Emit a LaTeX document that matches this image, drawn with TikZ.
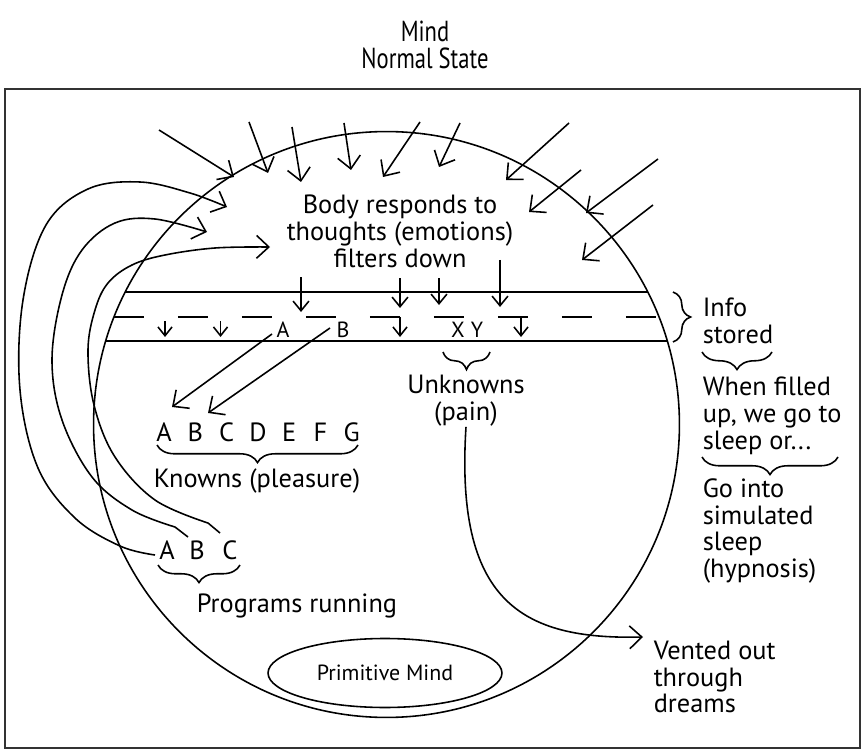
\documentclass[tikz,border=0pt]{standalone}
\usepackage{fontspec}
\setmainfont{PT Sans}
\newfontfamily\titlefont{PT Sans}[FakeStretch=0.78]
\usetikzlibrary{arrows.meta,decorations.pathreplacing,shapes.geometric}

\tikzset{
  txt/.style={inner sep=0pt, font=\fontsize{15}{15.3}\selectfont},
  sml/.style={inner sep=0pt, font=\fontsize{12.5}{13}\selectfont},
  brc/.style={decorate, decoration={brace, amplitude=10pt}},
  arr/.style={-{Straight Barb[length=7pt,width=13pt]}},
  midarr/.style={-{Straight Barb[length=5.5pt,width=9pt]}},
  tinyarr/.style={-{Straight Barb[length=5pt,width=8pt]}},
}

\begin{document}
\begin{tikzpicture}[x=0.02cm, y=-0.02cm, line width=0.9pt]
    \useasboundingbox (0,0) rectangle (863,750);

    % Title
    \node[txt, align=center, font=\titlefont\fontsize{16.5}{15.5}\selectfont] (title) at (425,45) {Mind\\Normal State};

    % Frame
    \draw[line width=1.1pt, black!80] (5,89) rectangle (860,748);

    % The mind
    \node[draw, circle, minimum size=11.72cm, inner sep=0pt] (mind) at (386.5,424.5) {};
    \node[draw, ellipse, minimum width=4.68cm, minimum height=1.38cm, inner sep=0pt, font=\fontsize{12.5}{13}\selectfont] (prim) at (385,673) {Primitive Mind};

    % Band where info is stored
    \draw (125.2,292) -- (647.8,292);
    \draw (105.6,341) -- (667.4,341);
    \draw[dash pattern=on 0.6cm off 0.68cm] (113.9,317) -- (659.1,317);

    % Thoughts coming in
    \foreach \sx/\sy/\ex/\ey [count=\i] in {159/130/234/177, 249/122/268/173, 292/127/301/182, 344/123/351/170, 420/122/383/177, 460/123/439/167, 569/123/506/180, 581/170/529/212, 658/159/586/213, 653/205/582/260}{
        \coordinate (out\i) at (\sx,\sy);
        \coordinate (in\i) at (\ex,\ey);
        \draw[arr] (out\i) -- (in\i);
    }
    \node[txt, align=center] (body) at (400,231.5) {Body responds to\\thoughts (emotions)\\filters down};

    % Filtering down
    \foreach \x/\ya/\yb in {301/277/312, 400/278/308, 439/278/305, 500/260/307}
        \draw[midarr] (\x,\ya) -- (\x,\yb);
    \foreach \x/\ya in {165/321, 220.5/321, 400/317, 521/317}
        \draw[tinyarr] (\x,\ya) -- (\x,337);

    % Letters in the band
    \node[sml] (bA) at (283,330) {A};
    \node[sml] (bB) at (343,330) {B};
    \node[sml] (bX) at (458,330) {X};
    \node[sml] (bY) at (477,330) {Y};

    % Knowns
    \foreach \l [count=\i from 0] in {A,B,C,D,E,F,G}
        \node[txt] (k\l) at ({164+31.3*\i},432) {\l};
    \draw[brc] (358,445) -- (157,445);
    \node[txt] (known) at (257,481) {Knowns (pleasure)};
    \coordinate (fromA) at (272,334);
    \coordinate (fromB) at (330,328);
    \coordinate (toA) at (172,407);
    \coordinate (toB) at (208,413);
    \draw[arr] (fromA) -- (toA);
    \draw[arr] (fromB) -- (toB);

    % Unknowns
    \draw[brc] (490,352) -- (443,352);
    \node[txt, align=center] (unk) at (466,400.5) {Unknowns\\(pain)};
    \coordinate (dream) at (643,637);
    \draw[arr] (unk.south) .. controls (455,600) and (520,640) .. (dream);
    \node[txt, align=left, anchor=west] (vent) at (653,677) {Vented out\\through\\dreams};

    % Right column
    \draw[brc] (673,292) -- (673,342);
    \node[txt, align=left, anchor=west] (info) at (702,321) {Info\\stored};
    \draw[brc] (772,352) -- (702,352);
    \node[txt, align=left, anchor=west] (full) at (702,416) {When filled\\up, we go to\\sleep or...};
    \draw[brc] (838,457) -- (702,457);
    \node[txt, align=left, anchor=west] (hyp) at (702,531) {Go into\\simulated\\sleep\\(hypnosis)};

    % Programs
    \node[txt] (pA) at (167,550) {A};
    \node[txt] (pB) at (197,550) {B};
    \node[txt] (pC) at (230,550) {C};
    \draw[brc] (240,565) -- (158,565);
    \node[txt] (prog) at (297,606) {Programs running};
    \coordinate (startA) at (155,555);
    \coordinate (startB) at (188,537);
    \coordinate (startC) at (220,533);
    \coordinate (tipA) at (227,207);
    \coordinate (tipB) at (207,232);
    \coordinate (tipC) at (270,247);
    \draw[arr] plot[smooth, tension=0.6] coordinates {(startA) (120,546) (75,518) (38,468) (20,390) (23,300) (46,225) (88,189) (140,182) (190,193) (tipA)};
    \draw[arr] (startB) -- plot[smooth, tension=0.6] coordinates {(175,527) (132,510) (92,477) (62,420) (52,360) (62,295) (82,250) (115,223) (155,219) (tipB)};
    \draw[arr] (startC) -- plot[smooth, tension=0.6] coordinates {(208,523) (155,500) (115,457) (94,405) (88,350) (95,310) (108,283) (132,265) (165,255) (215,248) (tipC)};
\end{tikzpicture}
\end{document}
